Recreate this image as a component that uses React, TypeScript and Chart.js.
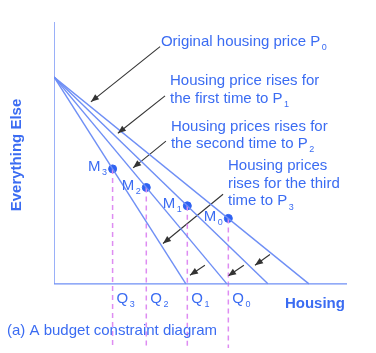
import React, { useEffect, useRef } from 'react';
import { Chart, registerables } from 'chart.js';

Chart.register(...registerables);

// ---- data (units: housing quantity on x, everything else on y) ----
const priceSubs = ['0', '1', '2', '3'];
const housingIntercepts = [8.7, 7.3, 5.9, 4.5];
const otherIntercept = 7.9;
const optimumHousing = [5.95, 4.55, 3.15, 2.0];
const optimumOther = [2.5, 2.98, 3.68, 4.39];
const quantitySubs = ['0', '1', '2', '3'];

const annotationLines = [
  ['Original housing price P'],
  ['Housing price rises for', 'the first time to P'],
  ['Housing prices rises for', 'the second time to P'],
  ['Housing prices', 'rises for the third', 'time to P'],
];
const annotationX = [3.65, 3.96, 3.99, 5.94];
const annotationY = [9.25, 7.76, 6.01, 4.51];

const arrowFromX = [3.62, 3.79, 3.82, 5.77, 7.37, 5.15, 6.48];
const arrowFromY = [9.06, 7.18, 5.45, 3.42, 1.12, 0.71, 0.71];
const arrowToX = [1.26, 2.18, 2.70, 3.72, 6.86, 4.64, 5.94];
const arrowToY = [6.95, 5.75, 4.43, 1.54, 0.71, 0.33, 0.30];

const xMax = 10;
const yMax = 10;
const yMin = -2.45;

const TEXT = '#3b6cf2';
const LINE = '#6f8ff5';
const POINT = '#2f62f2';
const DASH = '#de8cf2';
const ARROW = '#333333';
const FONT = '"Liberation Sans", Arial, sans-serif';
const FS = 15;

export default function App() {
  const ref = useRef<HTMLCanvasElement | null>(null);

  useEffect(() => {
    if (!ref.current) return;

    const datasets: any[] = [];
    // axes
    datasets.push({
      data: [{ x: 0, y: yMax }, { x: 0, y: 0 }, { x: xMax, y: 0 }],
      showLine: true, borderColor: LINE, borderWidth: 1.4, pointRadius: 0, tension: 0,
    });
    // budget lines
    housingIntercepts.forEach((h) => {
      datasets.push({
        data: [{ x: 0, y: otherIntercept }, { x: h, y: 0 }],
        showLine: true, borderColor: LINE, borderWidth: 1.4, pointRadius: 0,
      });
    });
    // dashed verticals
    optimumHousing.forEach((h, i) => {
      datasets.push({
        data: [{ x: h, y: optimumOther[i] }, { x: h, y: yMin }],
        showLine: true, borderColor: DASH, borderWidth: 1.5, borderDash: [5, 4], pointRadius: 0,
      });
    });
    // arrows (shafts)
    arrowFromX.forEach((fx, i) => {
      datasets.push({
        data: [{ x: fx, y: arrowFromY[i] }, { x: arrowToX[i], y: arrowToY[i] }],
        showLine: true, borderColor: ARROW, borderWidth: 1.1, pointRadius: 0,
      });
    });
    // optimum points
    datasets.push({
      data: optimumHousing.map((h, i) => ({ x: h, y: optimumOther[i] })),
      showLine: false, pointRadius: 4, pointBackgroundColor: POINT, pointBorderColor: POINT,
    });

    const drawSub = (ctx: CanvasRenderingContext2D, text: string, sub: string, x: number, y: number, size: number, align: 'left' | 'right' = 'left') => {
      const ss = Math.round(size * 0.6);
      ctx.font = `${size}px ${FONT}`;
      const w = ctx.measureText(text).width;
      ctx.font = `${ss}px ${FONT}`;
      const sw = ctx.measureText(sub).width;
      const start = align === 'left' ? x : x - w - sw - 1;
      ctx.textAlign = 'left';
      ctx.font = `${size}px ${FONT}`;
      ctx.fillText(text, start, y);
      ctx.font = `${ss}px ${FONT}`;
      ctx.fillText(sub, start + w + 1.5, y + size * 0.38);
    };

    const overlay = {
      id: 'overlay',
      afterDatasetsDraw(chart: any) {
        const ctx: CanvasRenderingContext2D = chart.ctx;
        const sx = chart.scales.x;
        const sy = chart.scales.y;
        ctx.save();
        // arrowheads
        ctx.fillStyle = ARROW;
        arrowFromX.forEach((fx, i) => {
          const x1 = sx.getPixelForValue(fx), y1 = sy.getPixelForValue(arrowFromY[i]);
          const x2 = sx.getPixelForValue(arrowToX[i]), y2 = sy.getPixelForValue(arrowToY[i]);
          const a = Math.atan2(y2 - y1, x2 - x1);
          const L = 8, W = 3.2;
          ctx.beginPath();
          ctx.moveTo(x2, y2);
          ctx.lineTo(x2 - L * Math.cos(a) + W * Math.sin(a), y2 - L * Math.sin(a) - W * Math.cos(a));
          ctx.lineTo(x2 - L * Math.cos(a) - W * Math.sin(a), y2 - L * Math.sin(a) + W * Math.cos(a));
          ctx.closePath();
          ctx.fill();
        });

        ctx.fillStyle = TEXT;
        ctx.textBaseline = 'middle';
        // annotations
        annotationLines.forEach((lines, i) => {
          const x = sx.getPixelForValue(annotationX[i]);
          const y0 = sy.getPixelForValue(annotationY[i]);
          lines.forEach((ln, j) => {
            const y = y0 + j * 17.8;
            if (j === lines.length - 1) {
              drawSub(ctx, ln, priceSubs[i], x, y, FS);
            } else {
              ctx.font = `${FS}px ${FONT}`;
              ctx.textAlign = 'left';
              ctx.fillText(ln, x, y);
            }
          });
        });
        // M labels
        optimumHousing.forEach((h, i) => {
          const x = sx.getPixelForValue(h);
          const y = sy.getPixelForValue(optimumOther[i]);
          drawSub(ctx, 'M', priceSubs[i], x - 6, y - 2, FS, 'right');
        });
        // Q labels
        optimumHousing.forEach((h, i) => {
          const x = sx.getPixelForValue(h);
          drawSub(ctx, 'Q', quantitySubs[i], x + 4, sy.getPixelForValue(0) + 15, FS);
        });
        // axis titles
        ctx.font = `bold ${FS}px ${FONT}`;
        ctx.textAlign = 'left';
        ctx.fillText('Housing', sx.getPixelForValue(7.88), sy.getPixelForValue(0) + 20);
        ctx.save();
        ctx.translate(17, 155);
        ctx.rotate(-Math.PI / 2);
        ctx.textAlign = 'center';
        ctx.fillText('Everything Else', 0, 0);
        ctx.restore();
        // caption
        ctx.font = `${FS}px ${FONT}`;
        ctx.textAlign = 'left';
        ctx.fillText('(a) A budget constraint diagram', 7, 331);
        ctx.restore();
      },
    };

    const chart = new Chart(ref.current, {
      type: 'scatter',
      data: { datasets },
      options: {
        animation: false,
        responsive: false,
        devicePixelRatio: 1,
        layout: { padding: { left: 54, right: 29, top: 22, bottom: 0 } },
        scales: {
          x: { type: 'linear', min: 0, max: xMax, display: false },
          y: { type: 'linear', min: yMin, max: yMax, display: false },
        },
        plugins: { legend: { display: false }, tooltip: { enabled: false } },
        elements: { line: { tension: 0 } },
      },
      plugins: [overlay],
    } as any);
    return () => chart.destroy();
  }, []);

  return (
    <div style={{ position: 'absolute', left: 0, top: 0, width: 376, height: 353, background: '#fff' }}>
      <canvas ref={ref} width={376} height={353} style={{ display: 'block' }} />
    </div>
  );
}
